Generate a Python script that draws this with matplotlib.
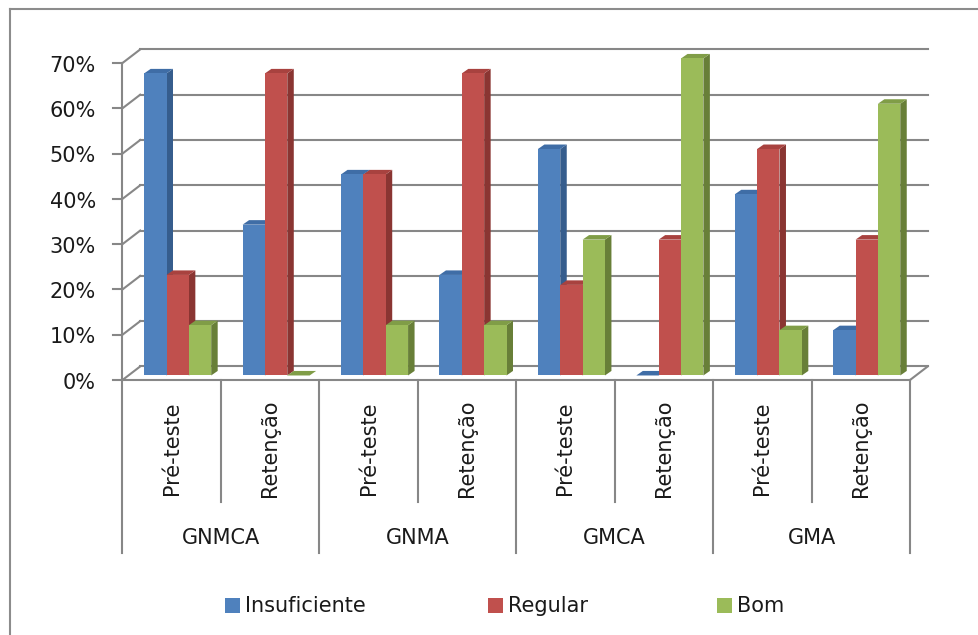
import matplotlib
matplotlib.use("Agg")
import matplotlib.pyplot as plt
from matplotlib.patches import Polygon, Rectangle
from matplotlib.lines import Line2D

# ---- data -------------------------------------------------------------
groups = ["GNMCA", "GNMA", "GMCA", "GMA"]
phases = ["Pré-teste", "Retenção"]
series_names = ["Insuficiente", "Regular", "Bom"]

insuficiente = [66.7, 33.3, 44.4, 22.2, 50.0, 0.0, 40.0, 10.0]
regular = [22.2, 66.7, 44.4, 66.7, 20.0, 30.0, 50.0, 30.0]
bom = [11.1, 0.0, 11.1, 11.1, 30.0, 70.0, 10.0, 60.0]

y_ticks = [0, 10, 20, 30, 40, 50, 60, 70]
y_tick_labels = ["0%", "10%", "20%", "30%", "40%", "50%", "60%", "70%"]

# ---- styling ----------------------------------------------------------
front_cols = ["#4F81BD", "#C0504D", "#9BBB59"]
top_cols = ["#3F6DA6", "#A8423F", "#809D47"]
side_cols = ["#365D8D", "#8A3532", "#687F38"]
grid_col = "#878787"
text_col = "#1a1a1a"
FS = 15

W, H = 979, 635
fig = plt.figure(figsize=(W / 100, H / 100), dpi=100)
fig.patch.set_facecolor("white")

# axes covering the front plane of the 3-D box (pixels 122.5..910, 63..380)
px_l, px_r, px_t, px_b = 122.5, 910.0, 63.0, 380.0
ax = fig.add_axes([px_l / W, (H - px_b) / H, (px_r - px_l) / W, (px_b - px_t) / H])
ax.set_xlim(0, 8)
ax.set_ylim(0, 70)
ax.axis("off")

# depth offsets (data units)
DX, DY = 0.18, 3.0          # back wall offset
OX, OY = 0.06, 1.0          # bar front-face offset from front plane
BX, BY = 0.066, 1.0         # bar depth
bar_w = 0.227
cluster_start = 0.16

lw = 1.5
# back wall gridlines, left-wall diagonals and tick marks
for t in y_ticks:
    ax.add_line(Line2D([DX, 8 + DX], [t + DY, t + DY], color=grid_col, lw=lw, clip_on=False))
    ax.add_line(Line2D([0, DX], [t, t + DY], color=grid_col, lw=lw, clip_on=False))
    ax.add_line(Line2D([-0.1, 0], [t, t], color=grid_col, lw=lw, clip_on=False))
# vertical axis line
ax.add_line(Line2D([0, 0], [0, 70], color=grid_col, lw=lw, clip_on=False))
# floor front edge and right edge
ax.add_line(Line2D([0, 8], [0, 0], color=grid_col, lw=lw, clip_on=False))
ax.add_line(Line2D([8, 8 + DX], [0, DY], color=grid_col, lw=lw, clip_on=False))

# y tick labels
for t, lab in zip(y_ticks, y_tick_labels):
    ax.text(-0.27, t - 0.6, lab, ha="right", va="center", fontsize=FS,
            color=text_col, clip_on=False)

# bars (drawn left to right so front faces overlap neighbouring side faces)
all_series = [insuficiente, regular, bom]
for i in range(8):
    for s, vals in enumerate(all_series):
        v = vals[i]
        x0 = i + cluster_start + s * bar_w + OX
        x1 = x0 + bar_w
        y0 = OY
        y1 = OY + v
        side = Polygon([(x1, y0), (x1 + BX, y0 + BY), (x1 + BX, y1 + BY), (x1, y1)],
                       closed=True, facecolor=side_cols[s], edgecolor="none",
                       clip_on=False, zorder=3)
        top = Polygon([(x0, y1), (x0 + BX, y1 + BY), (x1 + BX, y1 + BY), (x1, y1)],
                      closed=True, facecolor=top_cols[s], edgecolor="none",
                      clip_on=False, zorder=3)
        ax.add_patch(side)
        ax.add_patch(top)
        if v > 0:
            ax.bar(x0, v, width=bar_w, bottom=y0, align="edge", color=front_cols[s],
                   edgecolor="none", clip_on=False, zorder=3)

# category separators and labels below the floor
for k in range(9):
    y_end = -38.3 if k % 2 == 0 else -27.0
    ax.add_line(Line2D([k, k], [0, y_end], color=grid_col, lw=lw, clip_on=False))

for i in range(8):
    ax.text(i + 0.5, -15.1, phases[i % 2], rotation=90, ha="center", va="center",
            fontsize=FS, color=text_col, clip_on=False)

for g, name in enumerate(groups):
    ax.text(2 * g + 1, -34.8, name, ha="center", va="center", fontsize=FS,
            color=text_col, clip_on=False)

# legend
leg_sq = [225, 488, 717]
leg_y = 605.5
for x, name, col in zip(leg_sq, series_names, front_cols):
    fig.patches.append(Rectangle((x / W, (H - 613) / H), 15 / W, 15 / H,
                                 transform=fig.transFigure, facecolor=col,
                                 edgecolor="none"))
    fig.text((x + 20) / W, (H - leg_y) / H, name, ha="left", va="center",
             fontsize=FS, color=text_col)

# chart-area border
fig.add_artist(Line2D([10 / W, 10 / W], [0, (H - 9) / H], color="#8c8c8c", lw=1.5,
                      transform=fig.transFigure))
fig.add_artist(Line2D([10 / W, 1], [(H - 9) / H, (H - 9) / H], color="#8c8c8c", lw=1.5,
                      transform=fig.transFigure))

fig.savefig("out.png", dpi=100, facecolor="white")
